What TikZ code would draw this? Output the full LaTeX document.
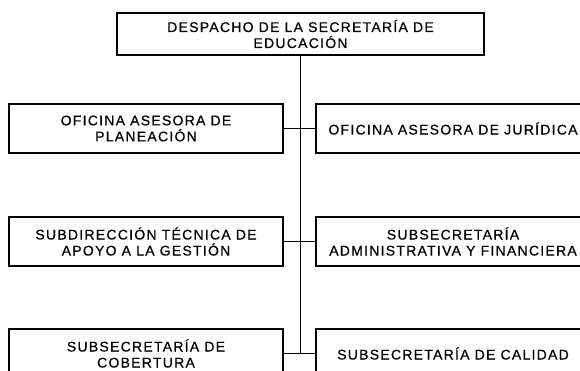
\documentclass[tikz,border=0pt]{standalone}
\usepackage{fontspec}
\usepackage{tikz}
\newfontfamily\orgfont[LetterSpace=9, FakeBold=0.6]{Liberation Sans}
\tikzset{unit/.style={draw, line width=1.8pt, minimum width=274pt, minimum height=49pt,
                      inner sep=0pt, align=center, font=\orgfont\fontsize{14}{16}\selectfont}}
\begin{document}
\begin{tikzpicture}[x=1pt, y=-1pt, line width=1.5pt]
         \clip (0, 0) rectangle (580, 371); 
         \node [unit, minimum width=367pt, minimum height=42pt] (T) at (300.5, 34) {DESPACHO DE LA SECRETARÍA DE\\EDUCACIÓN}; 
         \node [unit] (L1) at (146, 128.5) {OFICINA ASESORA DE\\PLANEACIÓN}; 
         \node [unit] (R1) at (453, 128.5) {OFICINA ASESORA DE JURÍDICA}; 
         \node [unit] (L2) at (146, 241.5) {SUBDIRECCIÓN TÉCNICA DE\\APOYO A LA GESTIÓN}; 
         \node [unit] (R2) at (453, 241.5) {SUBSECRETARÍA\\ADMINISTRATIVA Y FINANCIERA}; 
         \node [unit] (L3) at (146, 353.5) {SUBSECRETARÍA DE\\COBERTURA}; 
         \node [unit] (R3) at (453, 353.5) {SUBSECRETARÍA DE CALIDAD}; 
         \coordinate (J) at (T.south |- L3.east); 
         \draw (T.south) -- (J); 
         \draw (L1.east) -- (R1.west); 
         \draw (L2.east) -- (R2.west); 
         \draw (L3.east) -- (R3.west); 
\end{tikzpicture}
\end{document}
